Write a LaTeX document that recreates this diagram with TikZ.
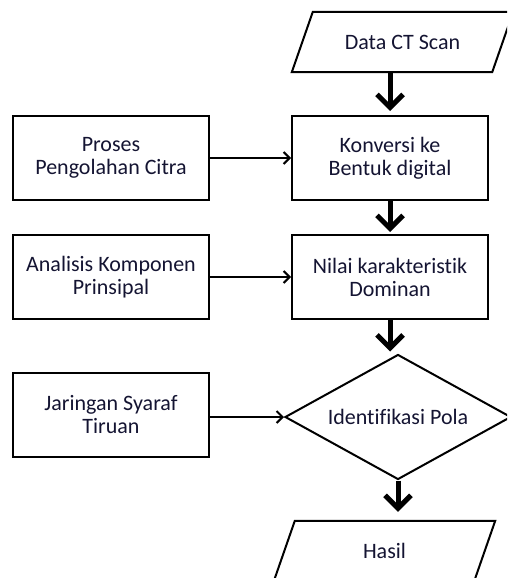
\documentclass[tikz,border=0pt]{standalone}
\usepackage{fontspec}
\setmainfont{Carlito}[Ligatures={NoCommon}]
\usetikzlibrary{arrows.meta,shapes.geometric}
\definecolor{txt}{RGB}{20,20,50}
\begin{document}
\begin{tikzpicture}[x=1pt,y=-1pt,
  lbl/.style={text=txt, font=\fontsize{22}{23}\selectfont, align=center, inner sep=0pt},
  box/.style={lbl, draw, line width=2pt, minimum width=196pt, minimum height=84pt},
  io/.style={lbl, minimum width=200pt, minimum height=60pt},
  bigarrow/.style={-{Straight Barb[length=13pt,width=26pt]}, line width=5pt},
  smallarrow/.style={-{Straight Barb[length=6pt,width=12pt]}, line width=2pt}]
\useasboundingbox (0,0) rectangle (507,578);
\clip (0,0) rectangle (507,578);
\node[io] (data) at (402.5,42) {Data CT Scan};
\node[box] (konv) at (390,158) {Konversi ke\\Bentuk digital};
\node[box] (proses) at (111,158) {Proses\\Pengolahan Citra};
\node[box] (nilai) at (390,277) {Nilai karakteristik\\Dominan};
\node[box] (pca) at (111,277) {Analisis Komponen\\Prinsipal};
\node[lbl, diamond, aspect=1.8, draw, line width=2pt, minimum width=226pt, minimum height=125pt] (ident) at (398,417) {Identifikasi Pola};
\node[box] (jst) at (111,414.5) {Jaringan Syaraf\\Tiruan};
\node[io] (hasil) at (384.5,551) {Hasil};
\draw[line width=2pt] ([xshift=10.5pt]data.north west) -- ([xshift=10.5pt]data.north east) -- ([xshift=-10.5pt]data.south east) -- ([xshift=-10.5pt]data.south west) -- cycle;
\draw[line width=2pt] ([xshift=10.5pt]hasil.north west) -- ([xshift=10.5pt]hasil.north east) -- ([xshift=-10.5pt]hasil.south east) -- ([xshift=-10.5pt]hasil.south west) -- cycle;
\draw[bigarrow, shorten >=4pt] (konv.north |- data.south) -- (konv.north);
\draw[bigarrow, shorten >=2pt] (konv.south) -- (nilai.north);
\draw[bigarrow, shorten >=2pt] (nilai.south) -- (nilai.south |- ident.north);
\draw[bigarrow, shorten >=9pt] (ident.south) -- (ident.south |- hasil.north);
\draw[smallarrow] (proses.east) -- (konv.west);
\draw[smallarrow] (pca.east) -- (nilai.west);
\draw[smallarrow] (jst.east |- ident.west) -- (ident.west);
\end{tikzpicture}
\end{document}
